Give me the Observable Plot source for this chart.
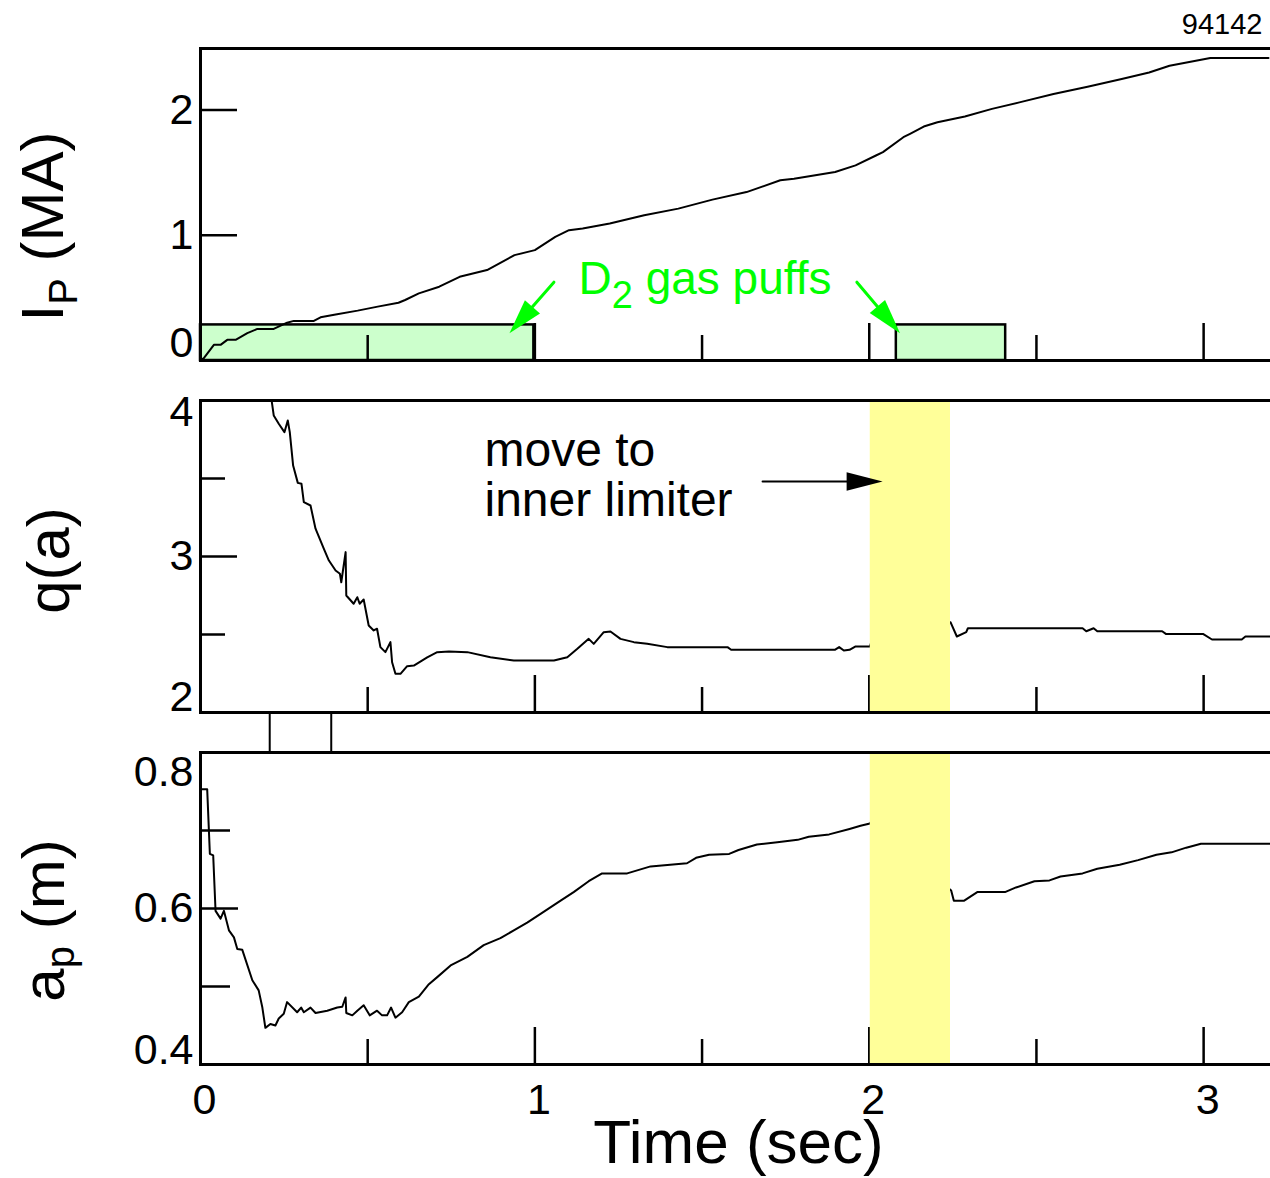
<!DOCTYPE html>
<html><head><meta charset="utf-8">
<script src="https://cdn.jsdelivr.net/npm/d3@7"></script>
<script src="https://cdn.jsdelivr.net/npm/@observablehq/plot@0.6"></script>
<style>
html,body{margin:0;padding:0;background:#fff;overflow:hidden;}
#chart{position:relative;width:1270px;height:1178px;}
#chart svg{position:absolute;left:0;top:0;}
</style></head><body><div id="chart"></div>
<script>
// ---------- data ----------
const ipT = [0, 0.010, 0.040, 0.060, 0.080, 0.105, 0.140, 0.170, 0.219, 0.259, 0.279, 0.339, 0.359, 0.400, 0.470, 0.530, 0.592, 0.612, 0.653, 0.714, 0.775, 0.857, 0.939, 1.000, 1.061, 1.102, 1.143, 1.224, 1.327, 1.429, 1.531, 1.633, 1.734, 1.775, 1.898, 1.959, 2.020, 2.041, 2.102, 2.122, 2.163, 2.204, 2.286, 2.367, 2.449, 2.551, 2.653, 2.755, 2.837, 2.898, 3.020, 3.194];
const ipV = [0, 0.019, 0.125, 0.125, 0.165, 0.165, 0.218, 0.252, 0.252, 0.302, 0.316, 0.316, 0.345, 0.365, 0.398, 0.430, 0.461, 0.483, 0.536, 0.589, 0.668, 0.722, 0.841, 0.881, 0.987, 1.040, 1.053, 1.093, 1.159, 1.212, 1.284, 1.344, 1.438, 1.451, 1.504, 1.557, 1.636, 1.663, 1.782, 1.809, 1.867, 1.901, 1.947, 2.008, 2.060, 2.127, 2.185, 2.247, 2.299, 2.352, 2.414, 2.414];

const qT = [0.212, 0.219, 0.234, 0.251, 0.261, 0.267, 0.277, 0.291, 0.302, 0.309, 0.329, 0.344, 0.369, 0.384, 0.404, 0.417, 0.421, 0.434, 0.436, 0.458, 0.469, 0.476, 0.488, 0.503, 0.518, 0.528, 0.538, 0.553, 0.568, 0.573, 0.583, 0.598, 0.618, 0.638, 0.678, 0.708, 0.743, 0.798, 0.867, 0.937, 1.057, 1.097, 1.127, 1.161, 1.176, 1.206, 1.226, 1.256, 1.296, 1.336, 1.396, 1.576, 1.587, 1.897, 1.910, 1.924, 1.941, 1.958, 2.002, 2.005, 2.243, 2.262, 2.290, 2.295, 2.638, 2.649, 2.671, 2.682, 2.876, 2.887, 2.998, 3.025, 3.114, 3.125, 3.197];
const qV = [4.011, 3.904, 3.851, 3.797, 3.872, 3.797, 3.583, 3.472, 3.466, 3.348, 3.327, 3.178, 3.049, 2.974, 2.910, 2.889, 2.835, 3.028, 2.750, 2.697, 2.739, 2.697, 2.724, 2.558, 2.526, 2.537, 2.419, 2.387, 2.451, 2.322, 2.248, 2.248, 2.297, 2.301, 2.354, 2.387, 2.391, 2.387, 2.354, 2.333, 2.333, 2.354, 2.408, 2.472, 2.440, 2.515, 2.519, 2.472, 2.451, 2.440, 2.419, 2.419, 2.402, 2.402, 2.419, 2.397, 2.402, 2.423, 2.423, 2.444, 2.579, 2.487, 2.515, 2.540, 2.540, 2.521, 2.540, 2.521, 2.521, 2.504, 2.504, 2.468, 2.468, 2.487, 2.487];

const apT = [0, 0.020, 0.028, 0.038, 0.045, 0.060, 0.070, 0.085, 0.100, 0.110, 0.125, 0.155, 0.174, 0.185, 0.194, 0.209, 0.224, 0.234, 0.249, 0.259, 0.289, 0.301, 0.309, 0.329, 0.344, 0.379, 0.409, 0.424, 0.434, 0.436, 0.454, 0.469, 0.488, 0.506, 0.528, 0.543, 0.558, 0.570, 0.583, 0.603, 0.623, 0.653, 0.683, 0.708, 0.748, 0.798, 0.847, 0.897, 0.937, 0.977, 1.017, 1.077, 1.116, 1.161, 1.201, 1.276, 1.346, 1.455, 1.482, 1.521, 1.581, 1.609, 1.664, 1.725, 1.786, 1.819, 1.880, 1.941, 1.974, 2.002, 2.005, 2.245, 2.253, 2.284, 2.323, 2.406, 2.439, 2.494, 2.539, 2.572, 2.638, 2.682, 2.749, 2.804, 2.859, 2.904, 2.948, 2.992, 3.197];
const apV = [0.753, 0.753, 0.670, 0.668, 0.597, 0.587, 0.597, 0.572, 0.563, 0.548, 0.547, 0.508, 0.495, 0.473, 0.447, 0.452, 0.450, 0.459, 0.465, 0.480, 0.467, 0.473, 0.467, 0.473, 0.466, 0.469, 0.473, 0.474, 0.486, 0.466, 0.463, 0.469, 0.476, 0.463, 0.469, 0.463, 0.463, 0.473, 0.460, 0.467, 0.480, 0.487, 0.503, 0.512, 0.527, 0.538, 0.553, 0.562, 0.572, 0.582, 0.593, 0.610, 0.621, 0.635, 0.645, 0.645, 0.654, 0.658, 0.665, 0.669, 0.670, 0.675, 0.682, 0.685, 0.688, 0.692, 0.695, 0.702, 0.706, 0.709, 0.711, 0.623, 0.610, 0.610, 0.621, 0.621, 0.627, 0.635, 0.636, 0.641, 0.645, 0.651, 0.656, 0.662, 0.669, 0.672, 0.678, 0.683, 0.683];

// gas puff windows (sec) and marker level (MA)
const puffStart = [0, 2.081];
const puffEnd = [0.997, 2.408];
const puffLevel = [0.284, 0.284];
// move to inner limiter window (sec)
const limiterStart = [2.003];
const limiterEnd = [2.243];
// vertical marks between q(a) and a_p panels (sec)
const gapMarks = [0.207, 0.391];
// annotation arrows
const puffArrowFromT = [1.057, 1.963];
const puffArrowToT = [0.924, 2.092];
const puffArrowFromIp = [0.625, 0.625];
const puffArrowToIp = [0.218, 0.218];
const limArrowFromT = [1.681];
const limArrowToT = [2.040];
const limArrowQ = [3.481];

// ticks and labels
const timeMajor = [1, 2, 3];
const timeMinor = [0.5, 1.5, 2.5];
const timeLabels = [0, 1, 2, 3];
const ipTicks = [1, 2];
const ipLabels = [1, 2];
const ipEdgeLabels = [0];
const qMajor = [3];
const qMinor = [2.5, 3.5];
const qLabels = [3];
const qTopLabels = [4];
const qBottomLabels = [2];
const apMajor = [0.6];
const apMinor = [0.5, 0.7];
const apLabels = [0.6];
const apTopLabels = [0.8];
const apBottomLabels = [0.4];

const xDomain = [0, 3.2];
const ipDomain = [0, 2.49];
const qDomain = [2, 4];
const apDomain = [0.4, 0.8];

// ---------- layout ----------
const W = 1270, H = 1178, ML = 200;
const FW = W - ML, FH = 312;
const FONT = "'Liberation Sans', Arial, Helvetica, sans-serif";
const GREEN = "#00ff00";
const fmt = d => String(d);

const ipData = ipT.map((t, i) => ({t, v: ipV[i]}));
const qData = qT.map((t, i) => ({t, v: qV[i]}));
const apData = apT.map((t, i) => ({t, v: apV[i]}));
const puffs = puffStart.map((s, i) => ({s, e: puffEnd[i], lvl: puffLevel[i]}));
const bands = limiterStart.map((s, i) => ({s, e: limiterEnd[i]}));
const puffArrows = puffArrowFromT.map((t, i) => ({x1: t, x2: puffArrowToT[i], y1: puffArrowFromIp[i], y2: puffArrowToIp[i]}));
const limArrows = limArrowFromT.map((t, i) => ({x1: t, x2: limArrowToT[i], y1: limArrowQ[i], y2: limArrowQ[i]}));

const head = {draw(ctx, l, r) { ctx.moveTo(0, -l); ctx.lineTo(-r, 0); ctx.lineTo(r, 0); ctx.closePath(); }};

const tops = [48, 400, 752];
const xs = d3.scaleLinear(xDomain, [ML, W]);
const ysIp = d3.scaleLinear(ipDomain, [tops[0] + FH, tops[0]]);
const ysQ = d3.scaleLinear(qDomain, [tops[1] + FH, tops[1]]);
const angle = (ys) => (d) => Math.atan2(xs(d.x2) - xs(d.x1), -(ys(d.y2) - ys(d.y1))) * 180 / Math.PI;

function xTicks() {
  return [
    Plot.tickX(timeMajor, {x: d => d, insetTop: FH - 37, stroke: "black", strokeWidth: 2.5}),
    Plot.tickX(timeMinor, {x: d => d, insetTop: FH - 25, stroke: "black", strokeWidth: 2.5})
  ];
}
function yTicks(vals, len) {
  return Plot.tickY(vals, {y: d => d, insetRight: FW - len, stroke: "black", strokeWidth: 2.5});
}
function yLabels(vals, dy) {
  return Plot.axisY({ticks: vals, tickFormat: fmt, tickSize: 0, tickPadding: 7, fontSize: 43, label: null, dy, fill: "black"});
}

function panel(top, yDomain, marks) {
  return Plot.plot({
    width: W, height: H,
    marginLeft: ML, marginRight: 0, marginTop: top, marginBottom: H - top - FH,
    x: {domain: xDomain, axis: null},
    y: {domain: yDomain, axis: null},
    style: {background: "transparent", overflow: "visible", fontFamily: FONT, fontSize: "43px", color: "black"},
    marks
  });
}

const p1 = panel(tops[0], ipDomain, [
  Plot.rect(puffs, {x1: "s", x2: "e", y1: 0, y2: "lvl", fill: "#ccffcc", stroke: "black", strokeWidth: 2.5}),
  ...xTicks(),
  yTicks(ipTicks, 37),
  Plot.line(ipData, {x: "t", y: "v", stroke: "black", strokeWidth: 2}),
  Plot.arrow(puffArrows, {x1: "x1", y1: "y1", x2: "x2", y2: "y2", stroke: GREEN, strokeWidth: 3, headLength: 0, insetEnd: 20}),
  Plot.vector(puffArrows, {x: "x2", y: "y2", rotate: angle(ysIp), length: 35, r: 10, anchor: "end", shape: head, fill: GREEN, stroke: "none"}),
  Plot.text(["D2 gas puffs"], {text: d => d, frameAnchor: "top-left", textAnchor: "start", lineAnchor: "bottom", dx: 378, dy: 245, fontSize: 46, fill: GREEN}),
  yLabels(ipLabels, 0),
  yLabels(ipEdgeLabels, -17),
  Plot.text(["IP (MA)"], {text: d => d, frameAnchor: "left", rotate: -90, textAnchor: "middle", lineAnchor: "bottom", dx: -138, dy: 22, fontSize: 60}),
  Plot.text(["94142"], {text: d => d, frameAnchor: "top-right", textAnchor: "end", lineAnchor: "bottom", dx: -8, dy: -15, fontSize: 29}),
  Plot.frame({stroke: "black", strokeWidth: 3, insetRight: -4})
]);

const p2 = panel(tops[1], qDomain, [
  ...xTicks(),
  yTicks(qMajor, 37),
  yTicks(qMinor, 25),
  Plot.line(qData, {x: "t", y: "v", stroke: "black", strokeWidth: 2, clip: true}),
  Plot.rect(bands, {x1: "s", x2: "e", fill: "#ffff99"}),
  Plot.arrow(limArrows, {x1: "x1", y1: "y1", x2: "x2", y2: "y2", stroke: "black", strokeWidth: 2, headLength: 0, insetEnd: 20}),
  Plot.vector(limArrows, {x: "x2", y: "y2", rotate: angle(ysQ), length: 36, r: 9.3, anchor: "end", shape: head, fill: "black", stroke: "none"}),
  Plot.text(["move to\ninner limiter"], {text: d => d, frameAnchor: "top-left", textAnchor: "start", lineAnchor: "bottom", lineHeight: 50 / 48, dx: 284, dy: 115, fontSize: 48}),
  yLabels(qLabels, 0),
  yLabels(qTopLabels, 12),
  yLabels(qBottomLabels, -15),
  Plot.text(["q(a)"], {text: d => d, frameAnchor: "left", rotate: -90, textAnchor: "middle", lineAnchor: "bottom", dx: -132, dy: 4, fontSize: 60}),
  Plot.frame({stroke: "black", strokeWidth: 3, insetRight: -4})
]);

const p3 = panel(tops[2], apDomain, [
  ...xTicks(),
  yTicks(apMajor, 38),
  yTicks(apMinor, 30),
  Plot.line(apData, {x: "t", y: "v", stroke: "black", strokeWidth: 2}),
  Plot.rect(bands, {x1: "s", x2: "e", fill: "#ffff99"}),
  Plot.ruleX(gapMarks, {x: d => d, insetTop: -40, insetBottom: FH, stroke: "black", strokeWidth: 2}),
  yLabels(apLabels, 0),
  yLabels(apTopLabels, 20),
  yLabels(apBottomLabels, -14),
  Plot.axisX({ticks: timeLabels, tickFormat: fmt, tickSize: 0, tickPadding: 19, fontSize: 43, label: null, dx: 4, fill: "black"}),
  Plot.text(["ap (m)"], {text: d => d, frameAnchor: "left", rotate: -90, textAnchor: "middle", lineAnchor: "bottom", dx: -137, dy: 12, fontSize: 60}),
  Plot.text(["Time (sec)"], {text: d => d, frameAnchor: "bottom", textAnchor: "middle", lineAnchor: "bottom", dx: 3, dy: 98, fontSize: 62}),
  Plot.frame({stroke: "black", strokeWidth: 3, insetRight: -4})
]);

function subscript(svg, full, base, sub, rest, size, shift) {
  d3.select(svg).selectAll("text").filter(function () { return this.textContent === full; }).each(function () {
    const t = d3.select(this);
    t.text(null);
    t.append("tspan").text(base);
    t.append("tspan").attr("font-size", size).attr("dy", shift).text(sub);
    t.append("tspan").attr("dy", -shift).text(rest);
  });
}
subscript(p1, "D2 gas puffs", "D", "2", " gas puffs", 38, 14);
subscript(p1, "IP (MA)", "I", "P", " (MA)", 40, 14);
subscript(p3, "ap (m)", "a", "p", " (m)", 40, 10);

const root = document.getElementById("chart");
root.append(p1, p2, p3);
</script>
</body></html>
